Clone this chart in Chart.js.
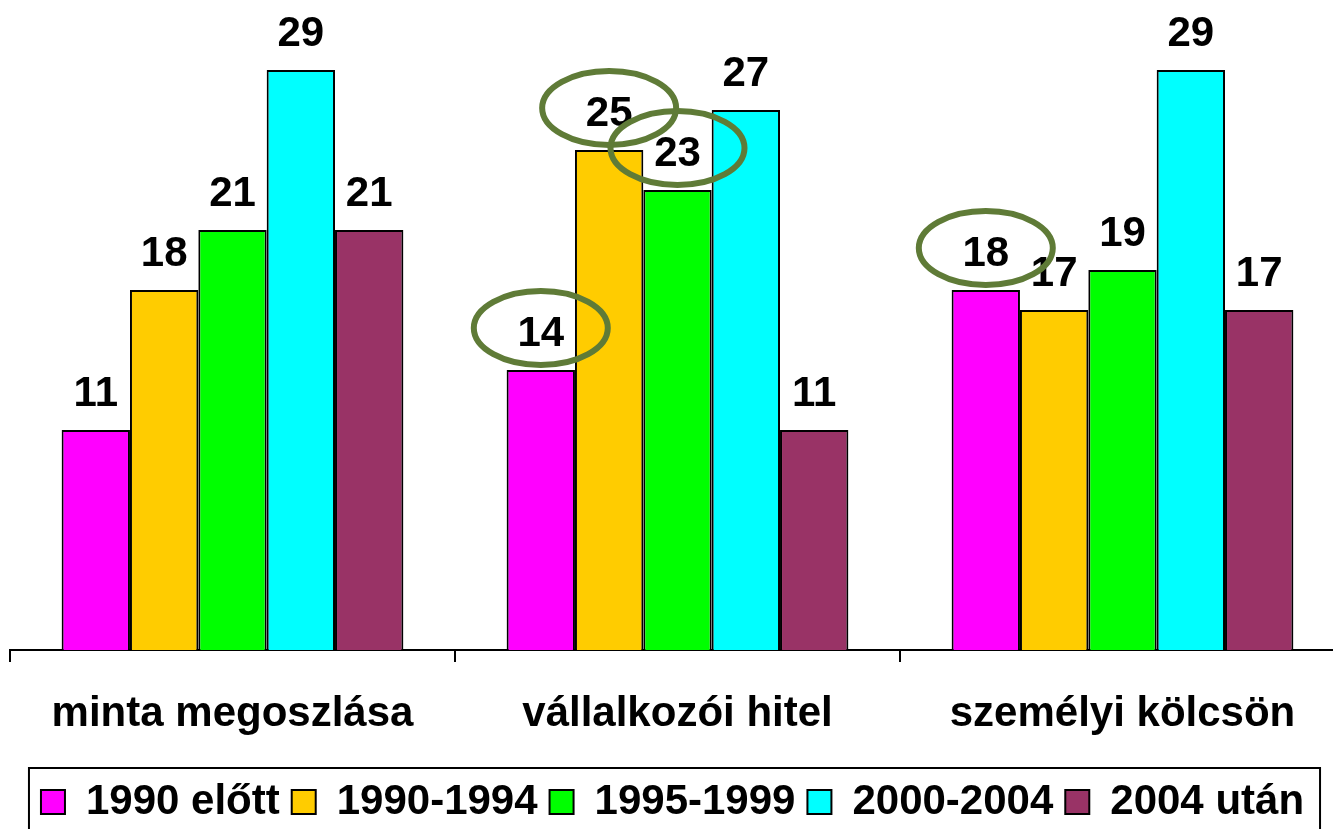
<!DOCTYPE html>
<html lang="hu">
<head>
<meta charset="utf-8">
<title>Vállalkozások alapítási éve</title>
<script src="https://cdn.jsdelivr.net/npm/chart.js@4.4.1/dist/chart.umd.min.js"></script>
<style>
  html, body {
    margin: 0;
    padding: 0;
    background: #fff;
    overflow: hidden;
  }
  #wrap {
    width: 1345px;
    height: 829px;
  }
</style>
</head>
<body>
<div id="wrap"><canvas id="foundChart"></canvas></div>
<script>
const categories = ["minta megoszlása", "vállalkozói hitel", "személyi kölcsön"];

const seriesNames = ["1990 előtt", "1990-1994", "1995-1999", "2000-2004", "2004 után"];
const seriesColors = ["#FF00FF", "#FFCC00", "#00FF00", "#00FFFF", "#993366"];

const before1990 = [11, 14, 18];
const from1990to1994 = [18, 25, 17];
const from1995to1999 = [21, 23, 19];
const from2000to2004 = [29, 27, 29];
const after2004 = [21, 11, 17];

// [series index, category index] of the labels that get a ring around them
const circledLabels = [
  [0, 1],
  [1, 1],
  [2, 1],
  [0, 2],
];

const FONT_FAMILY = "'Liberation Sans', Arial, sans-serif";
const BIG_FONT = { family: FONT_FAMILY, size: 42, weight: "bold" };
const LABEL_GAP = 24;
const BOTTOM_SHIFT = 4;

// value above every bar
const valueLabels = {
  id: "valueLabels",
  afterDatasetsDraw(chart) {
    const ctx = chart.ctx;
    ctx.save();
    ctx.font = `bold ${BIG_FONT.size}px ${FONT_FAMILY}`;
    ctx.fillStyle = "#000";
    ctx.textAlign = "center";
    ctx.textBaseline = "alphabetic";
    chart.data.datasets.forEach((ds, i) => {
      const meta = chart.getDatasetMeta(i);
      meta.data.forEach((bar, j) => {
        ctx.fillText(String(ds.data[j]), bar.x, bar.y - LABEL_GAP);
      });
    });
    ctx.restore();
  },
};

// olive rings around the highlighted values
const labelRings = {
  id: "labelRings",
  afterDatasetsDraw(chart) {
    const ctx = chart.ctx;
    ctx.save();
    ctx.strokeStyle = "#5F7B37";
    ctx.lineWidth = 6;
    circledLabels.forEach(([si, ci]) => {
      const bar = chart.getDatasetMeta(si).data[ci];
      const cx = bar.x;
      const cy = bar.y - LABEL_GAP - 18;
      ctx.beginPath();
      ctx.ellipse(cx, cy, 67, 37, 0, 0, Math.PI * 2);
      ctx.stroke();
    });
    ctx.restore();
  },
};

// thin frame around the legend row
const legendFrame = {
  id: "legendFrame",
  afterDraw(chart) {
    const boxes = chart.legend && chart.legend.legendHitBoxes;
    if (!boxes || !boxes.length) return;
    const left = Math.min(...boxes.map((b) => b.left)) - 12;
    const right = Math.max(...boxes.map((b) => b.left + b.width)) + 16;
    const top = boxes[0].top - 13;
    const ctx = chart.ctx;
    ctx.save();
    ctx.strokeStyle = "#000";
    ctx.lineWidth = 2;
    ctx.strokeRect(left, top, right - left, 120);
    ctx.restore();
  },
};

const seriesValues = [before1990, from1990to1994, from1995to1999, from2000to2004, after2004];

const datasets = seriesNames.map((name, i) => ({
  label: name,
  data: seriesValues[i],
  backgroundColor: seriesColors[i],
  borderColor: "#000",
  borderWidth: 2,
  borderSkipped: "bottom",
  barPercentage: 1,
  categoryPercentage: 0.768,
}));

const ctx = document.getElementById("foundChart").getContext("2d");
new Chart(ctx, {
  type: "bar",
  data: {
    labels: categories,
    datasets,
  },
  options: {
    responsive: true,
    maintainAspectRatio: false,
    animation: false,
    events: [],
    layout: {
      padding: { top: 50, left: 0, right: 0, bottom: -BOTTOM_SHIFT },
    },
    scales: {
      x: {
        grid: {
          display: true,
          offset: true,
          drawOnChartArea: false,
          drawTicks: true,
          tickLength: 12,
          color: "#000",
          lineWidth: 2,
        },
        border: {
          display: true,
          color: "#000",
          width: 2,
        },
        ticks: {
          color: "#000",
          font: BIG_FONT,
          padding: 27,
          maxRotation: 0,
        },
        afterFit(scale) {
          const legendH = scale.chart.legend ? scale.chart.legend.height : 0;
          scale.height = 829 + BOTTOM_SHIFT - 650 - legendH;
        },
      },
      y: {
        min: 0,
        max: 30,
        grid: { display: false },
        border: { display: false },
        ticks: { display: false },
        afterFit(scale) {
          scale.width = 10;
        },
      },
    },
    plugins: {
      tooltip: { enabled: false },
      legend: {
        position: "bottom",
        labels: {
          color: "#000",
          font: BIG_FONT,
          boxWidth: 24,
          boxHeight: 24,
          padding: 12,
        },
      },
    },
  },
  plugins: [valueLabels, labelRings, legendFrame],
});
</script>
</body>
</html>
